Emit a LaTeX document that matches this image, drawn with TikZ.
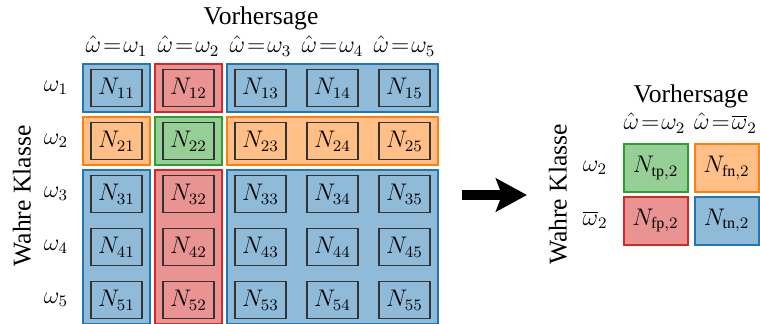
\documentclass[tikz,border=0pt]{standalone}
\usepackage{fontspec}
\setmainfont{Liberation Serif}
\usetikzlibrary{arrows.meta, positioning, fit, backgrounds}
\definecolor{tabblue}{RGB}{31,119,180}
\definecolor{tabred}{RGB}{214,39,40}
\definecolor{taborange}{RGB}{255,127,14}
\definecolor{tabgreen}{RGB}{44,160,44}

\begin{document}
\begin{tikzpicture}[
  x=0.5pt, y=-0.5pt,
  font=\fontsize{12}{14}\selectfont,
  lab/.style={font=\fontsize{12.8}{15}\selectfont},
  hd/.style={inner xsep=0pt},
  cell/.style={rectangle, draw=black!80, line width=0.6pt,
               minimum width=25.5pt, minimum height=18.5pt, inner sep=0pt},
  grp/.style={rectangle, line width=1pt, inner xsep=3.5pt, inner ysep=2.6pt},
  bgrp/.style={grp, draw=tabblue, fill=tabblue!50},
  rgrp/.style={grp, draw=tabred, fill=tabred!50},
  ogrp/.style={grp, draw=taborange, fill=taborange!50},
  ggrp/.style={grp, draw=tabgreen, fill=tabgreen!50},
  res/.style={rectangle, line width=1pt, inner sep=0pt,
              minimum width=32pt, minimum height=24pt},
  arr/.style={-{Stealth[length=15.5pt,width=16.5pt,inset=3pt]}, line width=5pt}
]
\useasboundingbox (0,0) rectangle (760,323);

% linke Matrix
\node[lab] (vh)  at (261,18) {Vorhersage};
\node[hd] (h1) at (116.5,46) {$\hat\omega\mkern1.5mu{=}\mkern1.5mu\omega_1$};
\node[hd] (h2) at (188.5,46) {$\hat\omega\mkern1.5mu{=}\mkern1.5mu\omega_2$};
\node[hd] (h3) at (260.5,46) {$\hat\omega\mkern1.5mu{=}\mkern1.5mu\omega_3$};
\node[hd] (h4) at (332.5,46) {$\hat\omega\mkern1.5mu{=}\mkern1.5mu\omega_4$};
\node[hd] (h5) at (404.5,46) {$\hat\omega\mkern1.5mu{=}\mkern1.5mu\omega_5$};
\node[lab, rotate=90] (wk) at (22,196) {Wahre Klasse};
\node (r1) at (56,88)  {$\omega_1$};
\node (r2) at (56,141) {$\omega_2$};
\node (r3) at (56,194) {$\omega_3$};
\node (r4) at (56,247) {$\omega_4$};
\node (r5) at (56,300) {$\omega_5$};

\node[cell] (n11) at (116.5,88) {$N_{11}$};
\node[cell] (n12) at (188.5,88) {$N_{12}$};
\node[cell] (n13) at (260.5,88) {$N_{13}$};
\node[cell] (n14) at (332.5,88) {$N_{14}$};
\node[cell] (n15) at (404.5,88) {$N_{15}$};
\node[cell] (n21) at (116.5,141) {$N_{21}$};
\node[cell] (n22) at (188.5,141) {$N_{22}$};
\node[cell] (n23) at (260.5,141) {$N_{23}$};
\node[cell] (n24) at (332.5,141) {$N_{24}$};
\node[cell] (n25) at (404.5,141) {$N_{25}$};
\node[cell] (n31) at (116.5,194) {$N_{31}$};
\node[cell] (n32) at (188.5,194) {$N_{32}$};
\node[cell] (n33) at (260.5,194) {$N_{33}$};
\node[cell] (n34) at (332.5,194) {$N_{34}$};
\node[cell] (n35) at (404.5,194) {$N_{35}$};
\node[cell] (n41) at (116.5,247) {$N_{41}$};
\node[cell] (n42) at (188.5,247) {$N_{42}$};
\node[cell] (n43) at (260.5,247) {$N_{43}$};
\node[cell] (n44) at (332.5,247) {$N_{44}$};
\node[cell] (n45) at (404.5,247) {$N_{45}$};
\node[cell] (n51) at (116.5,300) {$N_{51}$};
\node[cell] (n52) at (188.5,300) {$N_{52}$};
\node[cell] (n53) at (260.5,300) {$N_{53}$};
\node[cell] (n54) at (332.5,300) {$N_{54}$};
\node[cell] (n55) at (404.5,300) {$N_{55}$};

\begin{scope}[on background layer]
  \node[bgrp, fit=(n11)] (g11) {};
  \node[rgrp, fit=(n12)] (g12) {};
  \node[bgrp, fit=(n13)(n15)] (g13) {};
  \node[ogrp, fit=(n21)] (g21) {};
  \node[ggrp, fit=(n22)] (g22) {};
  \node[ogrp, fit=(n23)(n25)] (g23) {};
  \node[bgrp, fit=(n31)(n51)] (g31) {};
  \node[rgrp, fit=(n32)(n52)] (g32) {};
  \node[bgrp, fit=(n33)(n55)] (g33) {};
\end{scope}

% Pfeil
\coordinate (a0) at (462,195);
\coordinate (a1) at (527,195);
\draw[arr] (a0) -- (a1);

% rechte Matrix
\node[lab] (vh2) at (691,96) {Vorhersage};
\node[hd] (k1) at (654.5,123) {$\hat\omega\mkern1.5mu{=}\mkern1.5mu\omega_2$};
\node[hd] (k2) at (725.5,123) {$\hat\omega\mkern1.5mu{=}\mkern1.5mu\overline{\omega}_2$};
\node[lab, rotate=90] (wk2) at (558,194.5) {Wahre Klasse};
\node (s1) at (595,168) {$\omega_2$};
\node (s2) at (595,220) {$\overline{\omega}_2$};

\node[res, draw=tabgreen, fill=tabgreen!50]   (tp) at (655.5,168)   {$N_{\mathrm{tp},2}$};
\node[res, draw=taborange, fill=taborange!50] (fn) at (726.5,168)   {$N_{\mathrm{fn},2}$};
\node[res, draw=tabred, fill=tabred!50]       (fp) at (655.5,220.5) {$N_{\mathrm{fp},2}$};
\node[res, draw=tabblue, fill=tabblue!50]     (tn) at (726.5,220.5) {$N_{\mathrm{tn},2}$};
\end{tikzpicture}
\end{document}
